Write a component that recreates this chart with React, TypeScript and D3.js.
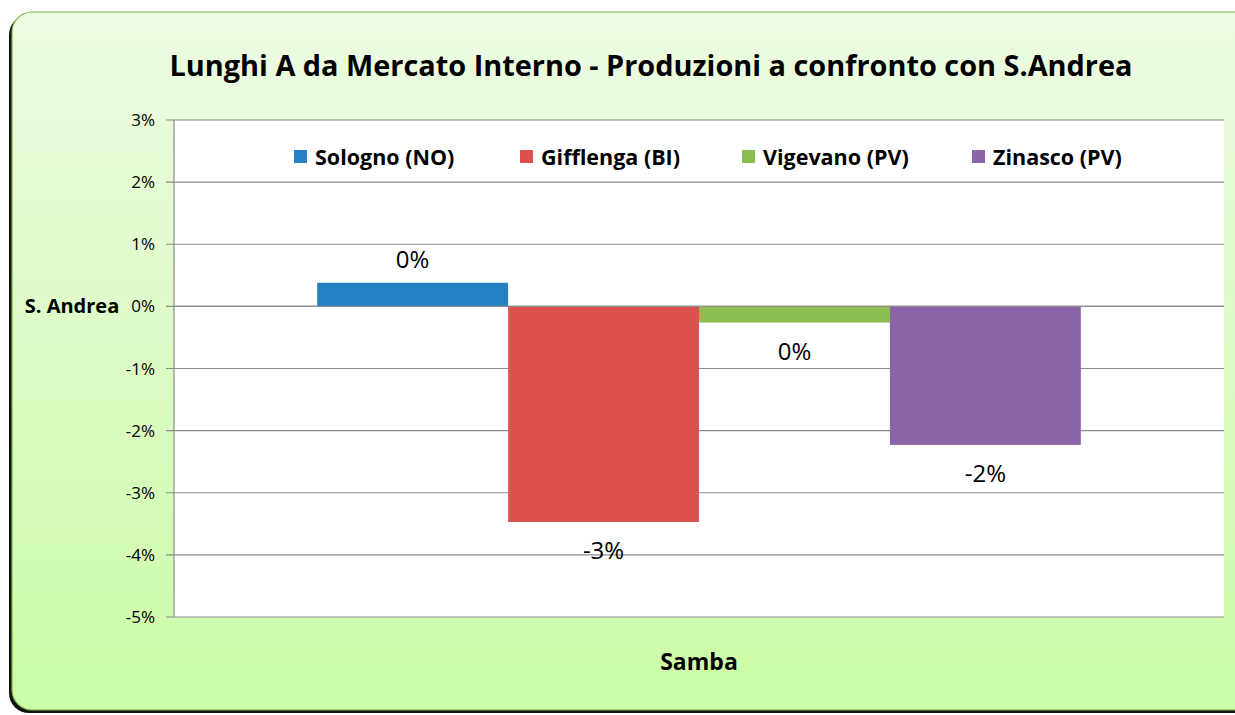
import React from "react";
import * as d3 from "d3";

const categories = ["Samba"];
const seriesNames = ["Sologno (NO)", "Gifflenga (BI)", "Vigevano (PV)", "Zinasco (PV)"];
const seriesValues = [0.0038, -0.0347, -0.0026, -0.0223];
const seriesLabels = ["0%", "-3%", "0%", "-2%"];
const seriesColors = ["#2580c3", "#dd5050", "#8cbd50", "#8b65a8"];
const yTicks = [0.03, 0.02, 0.01, 0, -0.01, -0.02, -0.03, -0.04, -0.05];

const W = 1235;
const H = 715;
const FONT = "'Open Sans', Lato, sans-serif";

export default function App() {
  const left = 174, right = 1224, top = 120, bottom = 617;
  const y = d3.scaleLinear().domain([-0.05, 0.03]).range([bottom, top]);
  const x0 = d3.scaleBand().domain(categories).range([left, right]).paddingInner(0).paddingOuter(0);
  const bw = x0.bandwidth() / 5.5;
  const groupStart = (x0(categories[0]) as number) + 0.75 * bw;
  const x1 = d3.scaleBand().domain(seriesNames).range([groupStart, groupStart + 4 * bw]).padding(0);
  const fmt = (t: number) => d3.format(".0%")(t).replace("\u2212", "-");
  const legendX = [294, 520, 742, 972];

  return (
    <svg width={W} height={H} style={{ position: "absolute", left: 0, top: 0, display: "block" }}>
      <defs>
        <linearGradient id="bg" x1="0" y1="0" x2="0" y2="1">
          <stop offset="0" stopColor="#edfbe3" />
          <stop offset="1" stopColor="#cbfca6" />
        </linearGradient>
      </defs>
      <rect x={0} y={0} width={W} height={H} fill="#ffffff" />
      {/* shadow */}
      <rect x={9} y={15} width={1250} height={698} rx={20} fill="#111" />
      <rect x={12} y={12} width={1250} height={698} rx={20} fill="url(#bg)" stroke="#7fae4a" strokeWidth={1.2} />
      {/* title */}
      <text x={651} y={76} textAnchor="middle" fontFamily={FONT} fontWeight="bold" fontSize={29} fill="#000"
        textLength={963} lengthAdjust="spacingAndGlyphs">
        Lunghi A da Mercato Interno - Produzioni a confronto con S.Andrea
      </text>
      {/* plot area */}
      <rect x={left} y={top} width={right - left} height={bottom - top} fill="#fff" />
      {yTicks.map((t) => (
        <g key={t}>
          <line x1={left - 8} x2={right} y1={y(t)} y2={y(t)} stroke="#8c8c8c" strokeWidth={1.2} />
          <text x={155} y={y(t) + 6} textAnchor="end" fontFamily={FONT} fontSize={17} fill="#000">
            {fmt(t)}
          </text>
        </g>
      ))}
      <line x1={left} x2={left} y1={top} y2={bottom} stroke="#8c8c8c" strokeWidth={1.2} />
      {/* bars */}
      {seriesNames.map((s, i) => {
        const v = seriesValues[i];
        const bx = x1(s) as number;
        const y0 = y(0), yv = y(v);
        return (
          <rect key={s} x={bx} y={Math.min(y0, yv)} width={x1.bandwidth()} height={Math.abs(yv - y0)} fill={seriesColors[i]} />
        );
      })}
      <line x1={left} x2={right} y1={y(0)} y2={y(0)} stroke="#8c8c8c" strokeWidth={1.2} />
      {/* data labels */}
      {seriesNames.map((s, i) => {
        const v = seriesValues[i];
        const cx = (x1(s) as number) + x1.bandwidth() / 2;
        const ly = v >= 0 ? y(v) - 15 : y(v) + 37;
        return (
          <text key={s} x={cx} y={ly} textAnchor="middle" fontFamily={FONT} fontSize={24} fill="#000">
            {seriesLabels[i]}
          </text>
        );
      })}
      {/* legend */}
      {seriesNames.map((s, i) => (
        <g key={s}>
          <rect x={legendX[i]} y={150} width={13} height={13} fill={seriesColors[i]} />
          <text x={legendX[i] + 21} y={165} fontFamily={FONT} fontWeight="bold" fontSize={21.5} fill="#000">
            {s}
          </text>
        </g>
      ))}
      {/* axis titles */}
      <text x={72} y={313} textAnchor="middle" fontFamily={FONT} fontWeight="bold" fontSize={20} fill="#000">
        S. Andrea
      </text>
      <text x={699} y={670} textAnchor="middle" fontFamily={FONT} fontWeight="bold" fontSize={23} fill="#000">
        {categories[0]}
      </text>
    </svg>
  );
}
